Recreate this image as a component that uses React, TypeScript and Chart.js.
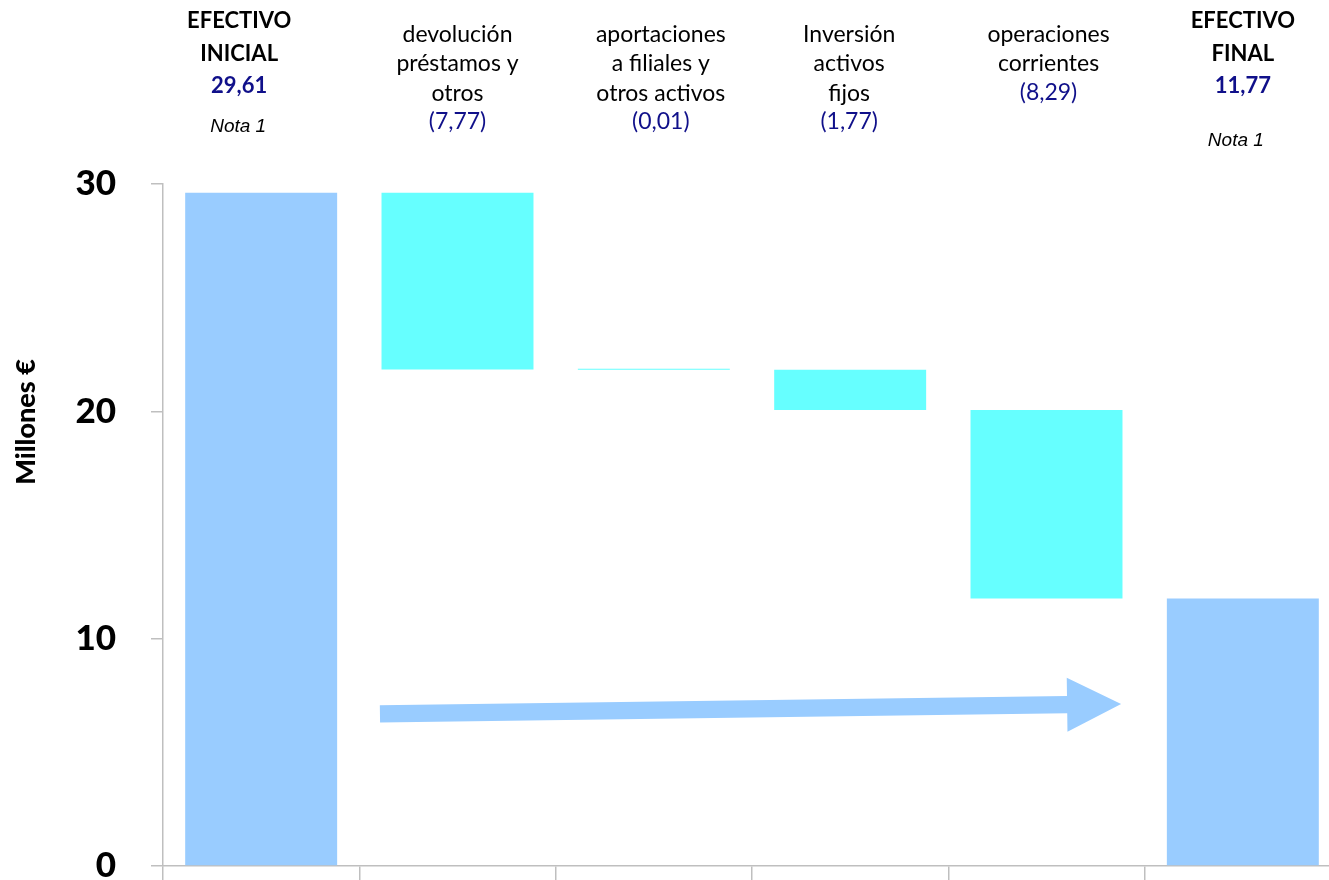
import React, { useEffect, useRef } from "react";
import { Chart, registerables } from "chart.js";

Chart.register(...registerables);

// ---- data ----
const categoryLines: string[][] = [
  ["EFECTIVO", "INICIAL"],
  ["devolución", "préstamos y", "otros"],
  ["aportaciones", "a filiales y", "otros activos"],
  ["Inversión", "activos", "fijos"],
  ["operaciones", "corrientes"],
  ["EFECTIVO", "FINAL"],
];
const categoryKeys = ["inicial", "devolucion", "aportaciones", "inversion", "operaciones", "final"];
const startCash = 29.61;
const cashFlows = [-7.77, -0.01, -1.77, -8.29];
const endCash = 11.77;
const notes = ["Nota 1", "", "", "", "", "Nota 1"];
const yTickValues = [0, 10, 20, 30];
const yAxisTitle = "Millones €";
// arrow annotation in data units (category index, value)
const arrowStart = { x: 0.605, y: 6.69 };
const arrowEnd = { x: 4.38, y: 7.13 };

const TOTAL_COLOR = "#99CCFF";
const FLOW_COLOR = "#66FFFF";
const VALUE_COLOR = "#10108A";
const AXIS_COLOR = "#BFBFBF";
const FONT = "Lato, 'Open Sans', sans-serif";

const fmt = (v: number) => Math.abs(v).toFixed(2).replace(".", ",");

function buildBars() {
  const bars: [number, number][] = [[0, startCash]];
  let running = startCash;
  for (const f of cashFlows) {
    const next = Math.round((running + f) * 100) / 100;
    bars.push([Math.min(next, running), Math.max(next, running)]);
    running = next;
  }
  bars.push([0, endCash]);
  return bars;
}

const valueLabels = [fmt(startCash), ...cashFlows.map((f) => `(${fmt(f)})`), fmt(endCash)];
const isTotal = [true, false, false, false, false, true];

// header layout (pixels)
const headerXOffset = [-22, 0, 7, -1, 2, 0];
const noteY = [132, 0, 0, 0, 0, 146];
const noteXOffset = [-23, 0, 0, 0, 0, -7];

const headerPlugin = {
  id: "headerLabels",
  afterDraw(chart: any) {
    const ctx = chart.ctx;
    const xs = chart.scales.x;
    ctx.save();
    ctx.textAlign = "center";
    ctx.textBaseline = "alphabetic";
    categoryLines.forEach((lines, i) => {
      const cx = xs.getPixelForValue(i) + headerXOffset[i];
      if (isTotal[i]) {
        ctx.font = `bold 22px ${FONT}`;
        ctx.fillStyle = "#000000";
        lines.forEach((t, k) => ctx.fillText(t, cx, 28 + 33 * k));
        ctx.fillStyle = VALUE_COLOR;
        ctx.fillText(valueLabels[i], cx, 28 + 33 * lines.length - 1);
        if (notes[i]) {
          ctx.font = `italic 19px 'Liberation Sans', Arial, sans-serif`;
          ctx.fillStyle = "#000000";
          ctx.fillText(notes[i], xs.getPixelForValue(i) + noteXOffset[i], noteY[i]);
        }
      } else {
        ctx.font = `23px ${FONT}`;
        ctx.fillStyle = "#000000";
        lines.forEach((t, k) => ctx.fillText(t, cx, 42 + 29.3 * k));
        ctx.fillStyle = VALUE_COLOR;
        ctx.fillText(valueLabels[i], cx, 42 + 29.3 * lines.length - 1);
      }
    });
    // y axis title
    ctx.font = `900 27px ${FONT}`;
    ctx.fillStyle = "#000000";
    ctx.translate(35, 422);
    ctx.rotate(-Math.PI / 2);
    ctx.textAlign = "center";
    ctx.textBaseline = "alphabetic";
    ctx.fillText(yAxisTitle, 0, 0);
    ctx.restore();
  },
};

const arrowPlugin = {
  id: "flowArrow",
  afterDatasetsDraw(chart: any) {
    const ctx = chart.ctx;
    const xs = chart.scales.x;
    const ys = chart.scales.y;
    const x1 = xs.getPixelForValue(arrowStart.x);
    const y1 = ys.getPixelForValue(arrowStart.y);
    const x2 = xs.getPixelForValue(arrowEnd.x);
    const y2 = ys.getPixelForValue(arrowEnd.y);
    const dx = x2 - x1;
    const dy = y2 - y1;
    const len = Math.hypot(dx, dy);
    const ux = dx / len;
    const uy = dy / len;
    const nx = -uy;
    const ny = ux;
    const half = 8.7;
    const headLen = 54;
    const headHalf = 27;
    const bx = x2 - ux * headLen;
    const by = y2 - uy * headLen;
    ctx.save();
    ctx.fillStyle = TOTAL_COLOR;
    ctx.beginPath();
    ctx.moveTo(x1 + nx * half, y1 + ny * half);
    ctx.lineTo(bx + nx * half, by + ny * half);
    ctx.lineTo(bx + nx * headHalf, by + ny * headHalf);
    ctx.lineTo(x2, y2);
    ctx.lineTo(bx - nx * headHalf, by - ny * headHalf);
    ctx.lineTo(bx - nx * half, by - ny * half);
    ctx.lineTo(x1 - nx * half, y1 - ny * half);
    ctx.closePath();
    ctx.fill();
    ctx.restore();
  },
};

export default function App() {
  const ref = useRef<HTMLCanvasElement | null>(null);
  useEffect(() => {
    if (!ref.current) return;
    const bars = buildBars();
    const chart = new Chart(ref.current, {
      type: "bar",
      data: {
        labels: categoryKeys,
        datasets: [
          {
            data: bars as any,
            backgroundColor: isTotal.map((t) => (t ? TOTAL_COLOR : FLOW_COLOR)),
            borderWidth: 0,
            barPercentage: 0.774,
            categoryPercentage: 1,
            minBarLength: 1,
          },
        ],
      },
      options: {
        animation: false,
        responsive: false,
        devicePixelRatio: 1,
        layout: { autoPadding: false, padding: { top: 184, right: 19, bottom: 0, left: 0 } },
        plugins: { legend: { display: false }, tooltip: { enabled: false }, title: { display: false } },
        scales: {
          x: {
            type: "category",
            grid: {
              offset: true,
              drawOnChartArea: false,
              drawTicks: true,
              tickLength: 14,
              color: AXIS_COLOR,
              lineWidth: 1.5,
            },
            border: { display: true, color: AXIS_COLOR, width: 1.5 },
            ticks: { display: false },
            afterFit: (s: any) => {
              s.height = 14;
              s.paddingLeft = 0;
              s.paddingRight = 0;
              s.paddingTop = 0;
              s.paddingBottom = 0;
            },
          },
          y: {
            min: 0,
            max: 30,
            afterBuildTicks: (s: any) => {
              s.ticks = yTickValues.map((v) => ({ value: v }));
            },
            grid: {
              drawOnChartArea: false,
              drawTicks: true,
              tickLength: 12,
              color: AXIS_COLOR,
              lineWidth: 1.5,
            },
            border: { display: true, color: AXIS_COLOR, width: 1.5 },
            ticks: {
              padding: 35,
              color: "#000000",
              font: { family: FONT, size: 35, weight: "900" },
              callback: (v: any) => String(v),
            },
            afterFit: (s: any) => {
              s.width = 163;
              s.paddingLeft = 0;
              s.paddingRight = 0;
              s.paddingTop = 0;
              s.paddingBottom = 0;
            },
          },
        },
      },
      plugins: [arrowPlugin, headerPlugin],
    });
    return () => chart.destroy();
  }, []);
  return (
    <div
      style={{
        position: "fixed",
        left: 0,
        top: 0,
        width: 1329,
        height: 880,
        overflow: "hidden",
        background: "#ffffff",
      }}
    >
      <canvas
        ref={ref}
        width={1360}
        height={880}
        style={{ position: "absolute", left: 0, top: 0, width: 1360, height: 880, display: "block" }}
      />
    </div>
  );
}
